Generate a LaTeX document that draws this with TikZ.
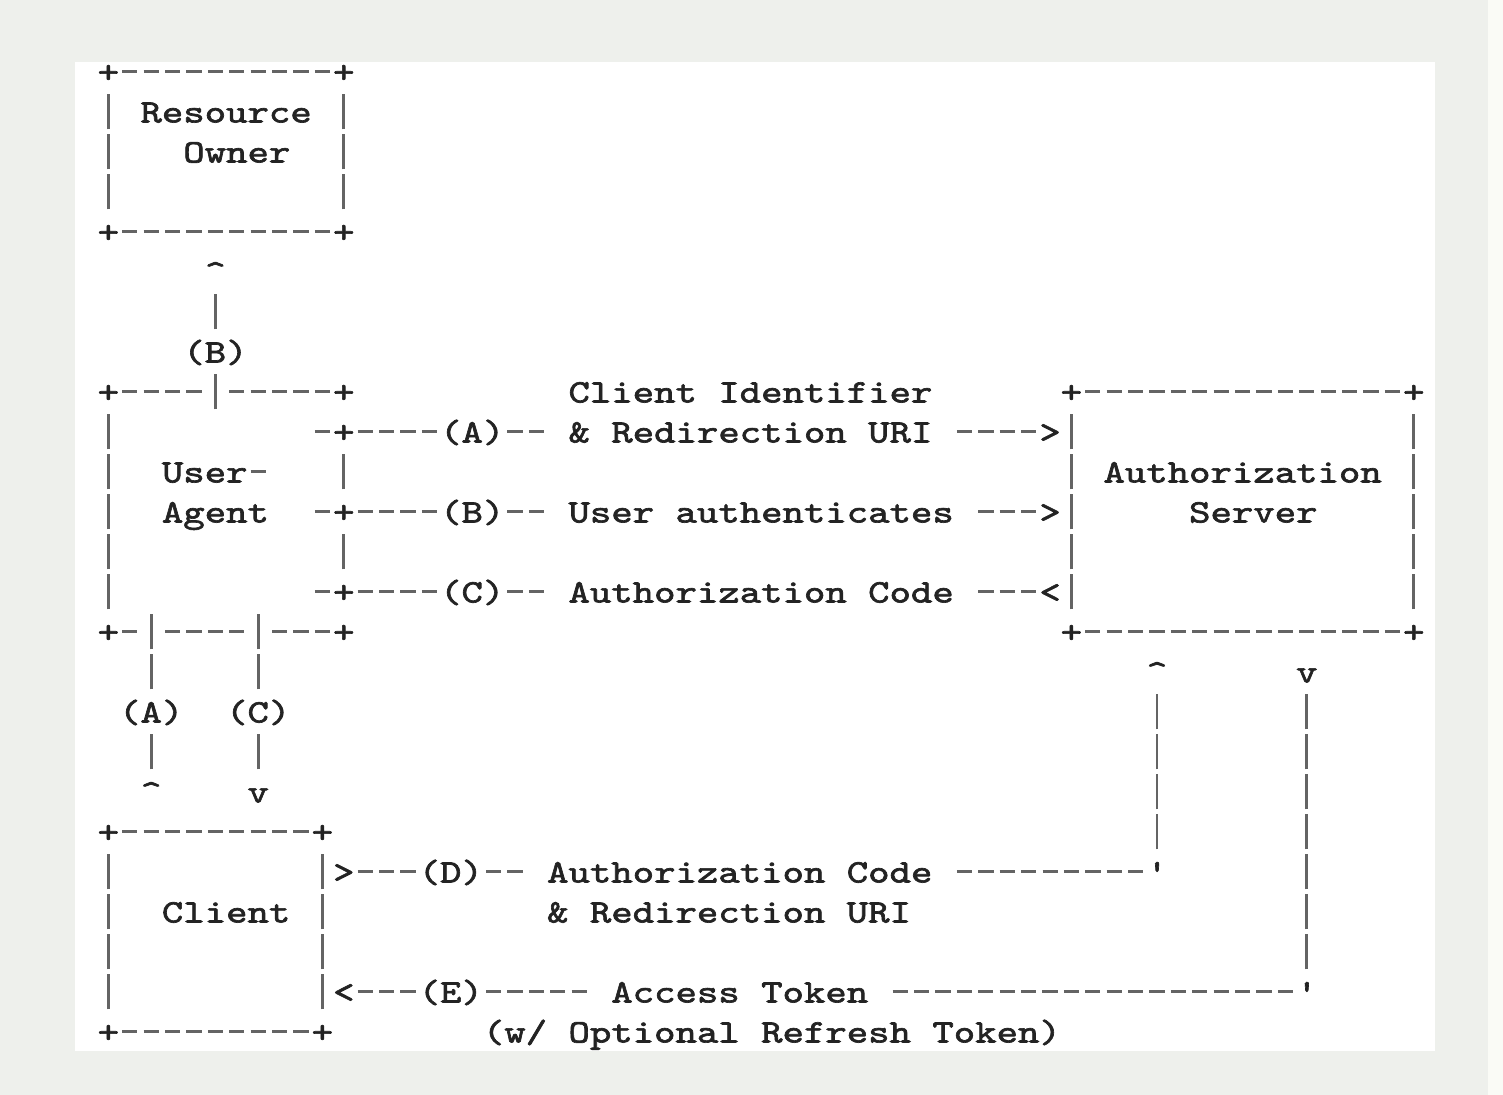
\documentclass[tikz,border=0pt]{standalone}
\usepackage{fontspec}
\usepackage{graphicx}
\newfontfamily\asciifont{lmmono10-regular.otf}[FakeStretch=1.243,FakeBold=2,Ligatures=TeXOff]
\definecolor{pagegray}{RGB}{238,240,236}
\definecolor{stripwhite}{RGB}{250,251,246}
\definecolor{ink}{RGB}{35,35,35}
\definecolor{linegray}{RGB}{100,100,100}
% one long dash and one tall bar, each one character wide
\newcommand\hd{\makebox[10.7pt]{\color{linegray}\rule[4.5pt]{7.6pt}{1.5pt}}}
\newcommand\dsh[1]{\foreach\i in {1,...,#1}{\hd}}
\newcommand\vb{\makebox[10.7pt]{\color{linegray}\rule[-3.5pt]{1.4pt}{17.5pt}}}

\begin{document}
\begin{tikzpicture}
  [x=10.7pt,y=-20pt,
   every node/.style={anchor=base west,inner sep=0pt,text=ink,
     font=\asciifont\fontsize{16.4}{20}\selectfont}]
  \useasboundingbox (0.453,-2.0625) rectangle (70.687,25.3125);
  \fill[pagegray] (0.453,-2.0625) rectangle (70.687,25.3125);
  \fill[stripwhite] (69.98,-2.0625) rectangle (70.687,25.3125);
  \fill[white] (3.958,-0.5125) rectangle (67.51,24.2125);

  % resource owner
  \node (ro1) at (5,0) {+\dsh{10}+};
  \node (ro2) at (5,1) {\vb{} Resource \vb};
  \node (ro3) at (9,2) {Owner};
  \foreach \r in {2,3}
    {\node (rol\r) at (5,\r) {\vb};
     \node (ror\r) at (16,\r) {\vb};}
  \node (ro4) at (5,4) {+\dsh{10}+};
  \node (b1) at (10,5) {\textasciicircum};
  \node (b2) at (10,6) {\vb};
  \node (b3) at (9,7) {(B)};

  % user-agent and flows A, B, C
  \node (ua1) at (5,8) {+\dsh{4}\vb\dsh{5}+};
  \node (fa1) at (27,8) {Client Identifier};
  \foreach \r in {9,...,13}
    \node (ual\r) at (5,\r) {\vb};
  \node (fa2) at (15,9) {\dsh{1}+\dsh{4}(A)\dsh{2} \& Redirection URI \dsh{4}>\vb};
  \node (ua2) at (8,10) {User\dsh{1}};
  \node (ua3) at (16,10) {\vb};
  \node (ua4) at (8,11) {Agent};
  \node (fb) at (15,11) {\dsh{1}+\dsh{4}(B)\dsh{2} User authenticates \dsh{3}>\vb};
  \node (ua5) at (16,12) {\vb};
  \node (fc) at (15,13) {\dsh{1}+\dsh{4}(C)\dsh{2} Authorization Code \dsh{3}<\vb};
  \node (ua6) at (5,14) {+\dsh{1}\vb\dsh{4}\vb\dsh{3}+};

  % authorization server
  \node (as1) at (50,8) {+\dsh{15}+};
  \node (as2) at (50,10) {\vb{} Authorization \vb};
  \node (as3) at (56,11) {Server};
  \node (as4) at (50,12) {\vb};
  \foreach \r in {9,11,12,13}
    \node (asr\r) at (66,\r) {\vb};
  \node (as5) at (50,14) {+\dsh{15}+};

  % A and C down to the client
  \node (a1) at (7,15) {\vb};
  \node (a2) at (6,16) {(A)};
  \node (a3) at (7,17) {\vb};
  \node (a4) at (7,18) {\textasciicircum};
  \node (c1) at (12,15) {\vb};
  \node (c2) at (11,16) {(C)};
  \node (c3) at (12,17) {\vb};
  \node (c4) at (12,18) {v};

  % D and E back to the server
  \node (d1) at (54,15) {\textasciicircum};
  \node (e1) at (61,15) {v};
  \foreach \r in {16,...,19}
    \node (d\r) at (54,\r) {\vb};
  \foreach \r in {16,...,22}
    \node (e\r) at (61,\r) {\vb};

  % client
  \node (cl1) at (5,19) {+\dsh{9}+};
  \foreach \r in {20,...,23}
    \node (cll\r) at (5,\r) {\vb};
  \node (fd1) at (15,20) {\vb>\dsh{3}(D)\dsh{2} Authorization Code \dsh{9}'};
  \node (cl2) at (8,21) {Client};
  \node (cl3) at (15,21) {\vb};
  \node (fd2) at (26,21) {\& Redirection URI};
  \node (cl4) at (15,22) {\vb};
  \node (fe1) at (15,23) {\vb<\dsh{3}(E)\dsh{5} Access Token \dsh{19}'};
  \node (cl5) at (5,24) {+\dsh{9}+};
  \node (fe2) at (23,24) {(w/ Optional Refresh Token)};
\end{tikzpicture}
\end{document}
